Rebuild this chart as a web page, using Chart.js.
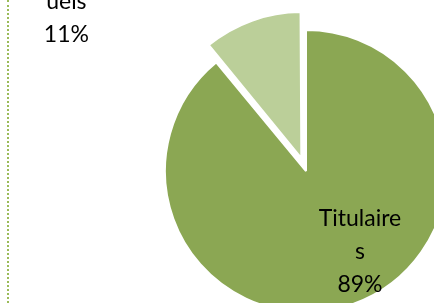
<!DOCTYPE html>
<html>
<head>
<meta charset="utf-8">
<script src="https://cdn.jsdelivr.net/npm/chart.js@4"></script>
<style>
  html, body { margin: 0; padding: 0; background: #fff; }
  body { width: 434px; height: 303px; overflow: hidden; position: relative; }
  #bord { position: absolute; left: 7px; top: 0; height: 303px; border-left: 2px dotted #9bbb59; }
  #wrap { position: absolute; left: 0; top: 0; width: 434px; height: 303px; }
</style>
</head>
<body>
<div id="bord"></div>
<div id="wrap"><canvas id="myPie"></canvas></div>
<script>
// Data
var categories = ["Titulaires", "Contractuels"];
var values = [89, 11];
var labelLines = [["Titulaire", "s", "89%"], ["Contract", "uels", "11%"]];

// label placement: angle from 12 o'clock (deg), distance in radii
var labelSpot = [[146.3, 0.69], [-54.8, 2.08]];

var pieLabels = {
  id: 'pieLabels',
  afterDatasetsDraw: function (chart) {
    var ctx = chart.ctx;
    var meta = chart.getDatasetMeta(0);
    ctx.save();
    ctx.font = '23px Lato, "Open Sans", sans-serif';
    ctx.fillStyle = '#000';
    ctx.textAlign = 'center';
    ctx.textBaseline = 'middle';
    meta.data.forEach(function (arc, i) {
      var a = labelSpot[i][0] * Math.PI / 180;
      var d = labelSpot[i][1] * arc.outerRadius;
      var cx = arc.x + Math.sin(a) * d;
      var cy = arc.y - Math.cos(a) * d;
      var lines = labelLines[i];
      var lh = 33;
      for (var k = 0; k < lines.length; k++) {
        ctx.fillText(lines[k], cx, cy + (k - (lines.length - 1) / 2) * lh);
      }
    });
    ctx.restore();
  }
};

var ctx = document.getElementById('myPie').getContext('2d');
var myPieChart = new Chart(ctx, {
  type: 'pie',
  data: {
    labels: categories,
    datasets: [{
      data: values,
      backgroundColor: ['#8ba753', '#bbcf99'],
      borderColor: '#ffffff',
      borderWidth: 2,
      offset: [0, 55],
      clip: false
    }]
  },
  options: {
    responsive: true,
    maintainAspectRatio: false,
    animation: false,
    radius: 141,
    layout: { padding: { left: 178, right: 0, top: 39, bottom: 0 } },
    plugins: {
      legend: { display: false },
      tooltip: { enabled: false }
    }
  },
  plugins: [pieLabels]
});
</script>
</body>
</html>
